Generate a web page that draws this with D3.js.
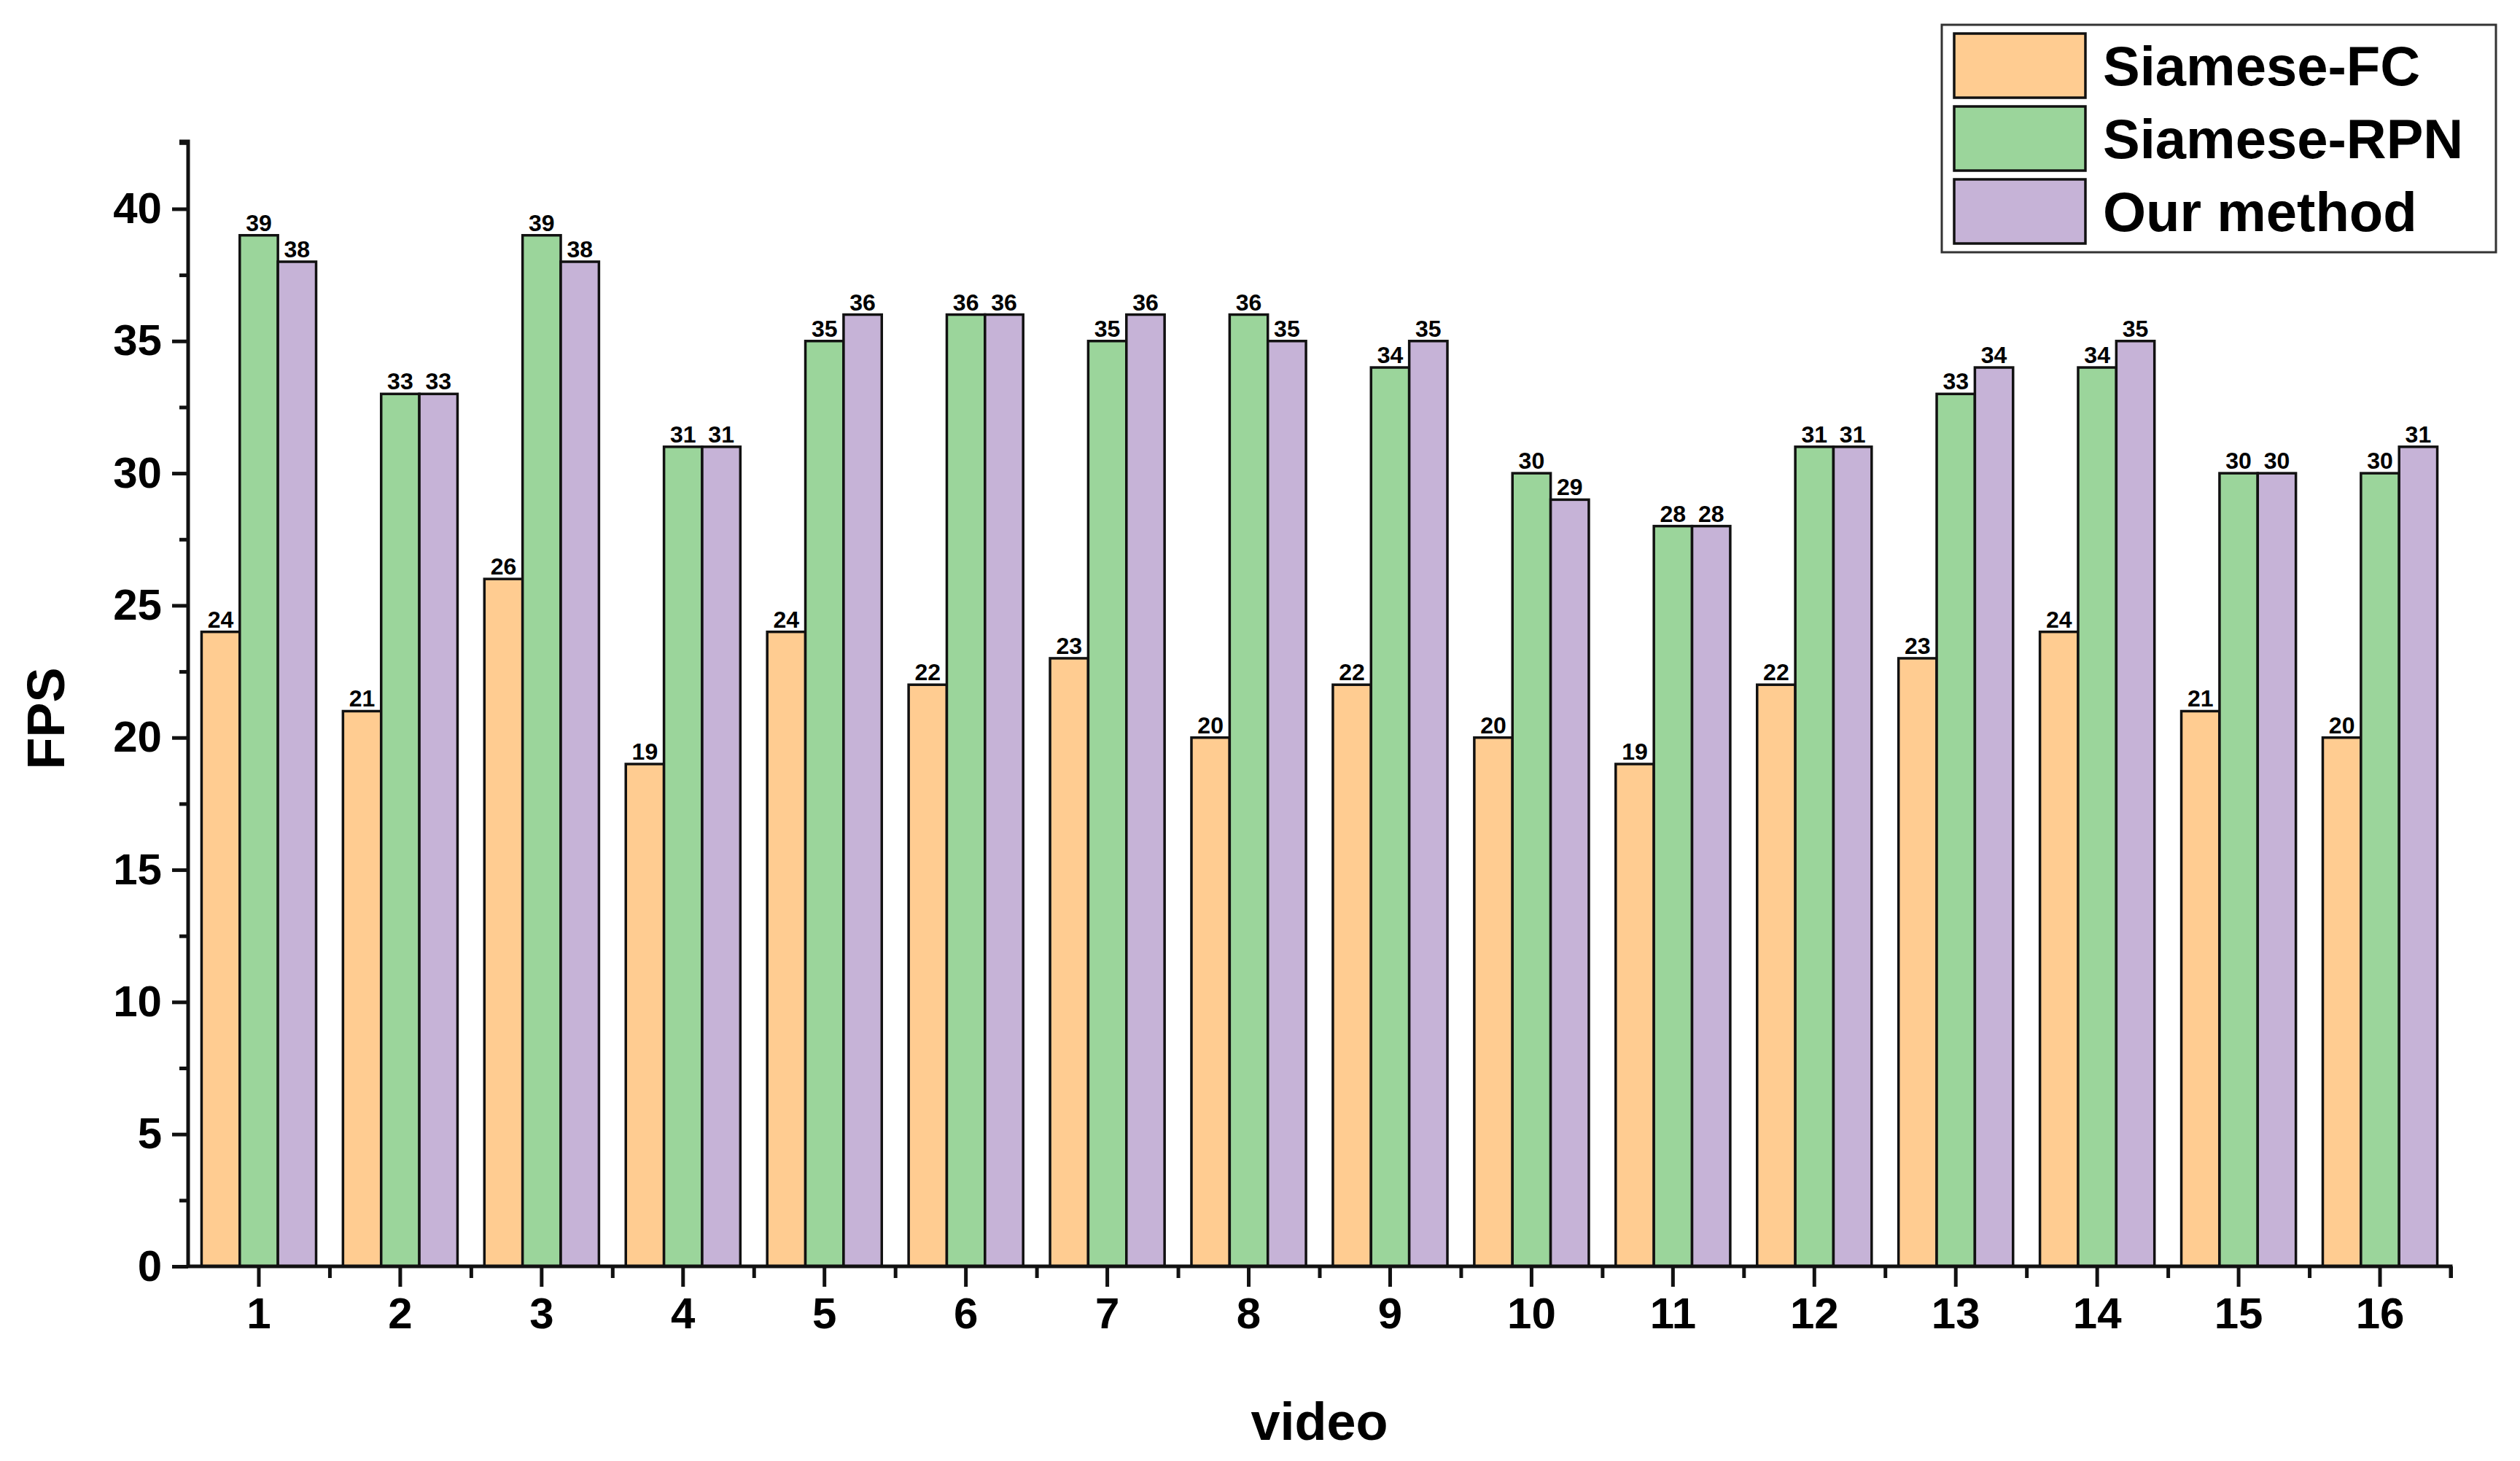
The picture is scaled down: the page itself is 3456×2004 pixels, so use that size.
<!DOCTYPE html>
<html><head><meta charset="utf-8">
<script src="https://cdn.jsdelivr.net/npm/d3@7"></script>
<style>body{margin:0;background:#fff}</style></head>
<body><svg id="c" width="3456" height="2004"></svg>
<script>
const videos = ["1","2","3","4","5","6","7","8","9","10","11","12","13","14","15","16"];
const seriesNames = ["Siamese-FC","Siamese-RPN","Our method"];
const siameseFC  = [24,21,26,19,24,22,23,20,22,20,19,22,23,24,21,20];
const siameseRPN = [39,33,39,31,35,36,35,36,34,30,28,31,33,34,30,30];
const ourMethod  = [38,33,38,31,36,36,36,35,35,29,28,31,34,35,30,31];
const yTicks = [0,5,10,15,20,25,30,35,40];
const colors = ["#FFCC91","#9BD59B","#C6B3D7"];
const series = [siameseFC, siameseRPN, ourMethod];

const svg = d3.select("#c");
const L=258, R=3361, T=194, B=1737;
const narrow = "'Liberation Sans Narrow','Arial Narrow','Liberation Sans',sans-serif";
const bold = "'Liberation Sans',Arial,sans-serif";

const x = d3.scaleBand().domain(videos).range([L,R]).paddingInner(0.19).paddingOuter(0.095);
const xs = d3.scaleBand().domain(seriesNames).range([0,x.bandwidth()]);
const y = d3.scaleLinear().domain([0,42.55]).range([B,T]);

// bars
series.forEach((vals,si)=>{
  const g = svg.append("g");
  g.selectAll("rect").data(vals).join("rect")
    .attr("x",(d,i)=>x(videos[i])+xs(seriesNames[si]))
    .attr("y",d=>y(d)).attr("width",xs.bandwidth()).attr("height",d=>B-y(d))
    .attr("fill",colors[si]).attr("stroke","#111").attr("stroke-width",3.5);
  g.selectAll("text").data(vals).join("text")
    .attr("x",(d,i)=>x(videos[i])+xs(seriesNames[si])+xs.bandwidth()/2)
    .attr("y",d=>y(d)-6).attr("text-anchor","middle")
    .attr("font-family",narrow).attr("font-weight","bold").attr("font-size",32)
    .text(d=>d);
});

// y axis
const yAxis = svg.append("g").attr("transform",`translate(${L},0)`)
  .call(d3.axisLeft(y).tickValues(yTicks).tickSize(22).tickPadding(14));
const yMinor = svg.append("g").attr("transform",`translate(${L},0)`)
  .call(d3.axisLeft(y).tickValues(d3.range(2.5,43,5)).tickSize(12).tickFormat(""));
// x axis
const xAxis = svg.append("g").attr("transform",`translate(0,${B})`)
  .call(d3.axisBottom(x).tickSize(28).tickPadding(14));
const bounds = videos.map(v=>x(v)-x.step()*x.paddingInner()/2).slice(1).concat([R]);
const xMinorScale = d3.scaleLinear().domain([L,R]).range([L,R]);
const xMinor = svg.append("g").attr("transform",`translate(0,${B})`)
  .call(d3.axisBottom(xMinorScale).tickValues(bounds).tickSize(16).tickFormat(""));
[yAxis,yMinor,xAxis,xMinor].forEach(a=>{
  a.selectAll("path.domain").attr("stroke","#111").attr("stroke-width",5);
  a.selectAll(".tick line").attr("stroke","#111").attr("stroke-width",5);
});
yMinor.select("path.domain").attr("d",`M-12,${y(42.55)}H0V${B}`);
xMinor.select("path.domain").attr("d",`M${L},0H${R}V16`);
[yAxis,xAxis].forEach(a=>a.selectAll(".tick text").attr("font-family",narrow)
  .attr("font-weight","bold").attr("font-size",60).attr("fill","#000"));
xAxis.select("path.domain").remove();
yAxis.select("path.domain").remove();

// titles
svg.append("text").attr("x",(L+R)/2).attr("y",1975).attr("text-anchor","middle")
  .attr("font-family",bold).attr("font-weight","bold").attr("font-size",72).text("video");
svg.append("text").attr("transform",`translate(88,${(T+B)/2+ 20}) rotate(-90)`)
  .attr("text-anchor","middle").attr("font-family",bold).attr("font-weight","bold")
  .attr("font-size",72).text("FPS");

// legend
const lg = svg.append("g");
lg.append("rect").attr("x",2663).attr("y",34).attr("width",760).attr("height",312)
  .attr("fill","#fff").attr("stroke","#333").attr("stroke-width",3);
seriesNames.forEach((n,i)=>{
  const cy = 90 + i*100;
  lg.append("rect").attr("x",2680).attr("y",cy-44).attr("width",180).attr("height",88)
    .attr("fill",colors[i]).attr("stroke","#111").attr("stroke-width",3.5);
  lg.append("text").attr("x",2884).attr("y",cy+27).attr("font-family",bold)
    .attr("font-weight","bold").attr("font-size",76).text(n);
});
</script></body></html>
